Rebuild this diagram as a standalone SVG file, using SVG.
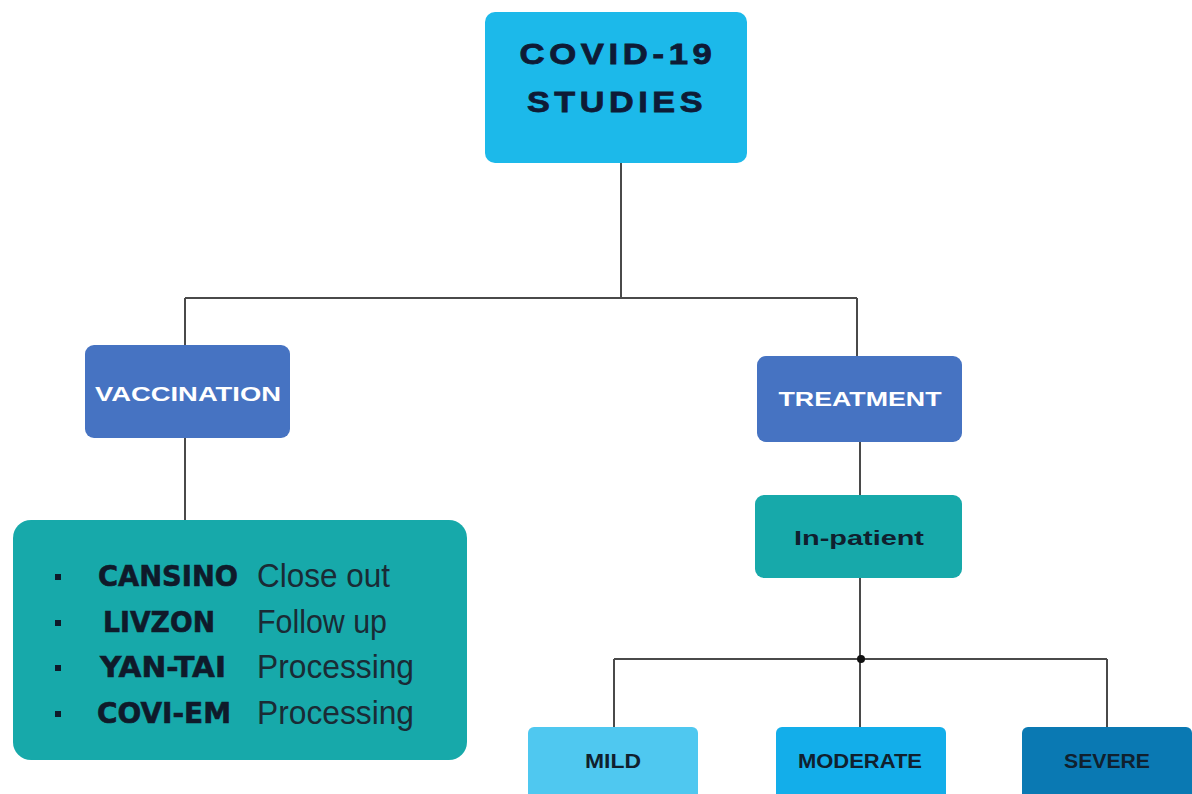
<svg xmlns="http://www.w3.org/2000/svg" width="1192" height="794" viewBox="0 0 1192 794">
<style>
.conn{fill:none;stroke:#4a4a4a;stroke-width:2}
.hdr{font-family:"Liberation Sans",Arial,sans-serif;font-weight:bold;fill:#0e1b36;text-anchor:middle;stroke:#0e1b36;stroke-width:0.8}
.blue{font-family:"Liberation Sans",Arial,sans-serif;font-weight:bold;fill:#ffffff;text-anchor:middle;font-size:20px}
.dark{font-family:"Liberation Sans",Arial,sans-serif;font-weight:bold;fill:#10202e;text-anchor:middle}
.name{font-family:"DejaVu Sans",sans-serif;font-weight:bold;fill:#0f1a2a;font-size:28px;text-anchor:middle;stroke:#0f1a2a;stroke-width:0.6}
.stat{font-family:"Liberation Sans",Arial,sans-serif;fill:#1a2b35;font-size:33px}
</style>
<rect width="1192" height="794" fill="#ffffff"/>
<g id="connectors">
<path class="conn" d="M621 163 V298 M185 298 H857 M185 298 V345 M857 298 V356"/>
<path class="conn" d="M185 438 V520"/>
<path class="conn" d="M860 442 V495"/>
<path class="conn" d="M860 578 V727 M614 659 H1107 M614 659 V727 M1107 659 V727" stroke="#333"/>
<circle cx="861" cy="659" r="4" fill="#111"/>
</g>
<g id="covid">
<rect x="485" y="12" width="262" height="151" rx="10" fill="#1cb9ea"/>
<text class="hdr" x="618" y="64" font-size="30" letter-spacing="4" textLength="197" lengthAdjust="spacingAndGlyphs">COVID-19</text>
<text class="hdr" x="617" y="112" font-size="30" letter-spacing="4" textLength="180" lengthAdjust="spacingAndGlyphs">STUDIES</text>
</g>
<g id="vaccination">
<rect x="85" y="345" width="205" height="93" rx="9" fill="#4673c2"/>
<text class="blue" x="188" y="401" textLength="186" lengthAdjust="spacingAndGlyphs">VACCINATION</text>
</g>
<g id="treatment">
<rect x="757" y="356" width="205" height="86" rx="9" fill="#4673c2"/>
<text class="blue" x="860" y="406" textLength="163" lengthAdjust="spacingAndGlyphs">TREATMENT</text>
</g>
<g id="vaccine-list">
<rect x="13" y="520" width="454" height="240" rx="18" fill="#17a9aa"/>
<g fill="#0f1a2a">
<rect x="55" y="574" width="6" height="6"/>
<rect x="55" y="620" width="6" height="6"/>
<rect x="55" y="665" width="6" height="6"/>
<rect x="55" y="711" width="6" height="6"/>
</g>
<text class="name" x="168" y="586" textLength="140" lengthAdjust="spacingAndGlyphs">CANSINO</text>
<text class="name" x="159" y="632" textLength="112" lengthAdjust="spacingAndGlyphs">LIVZON</text>
<text class="name" x="163" y="677" textLength="126" lengthAdjust="spacingAndGlyphs">YAN-TAI</text>
<text class="name" x="164" y="723" textLength="134" lengthAdjust="spacingAndGlyphs">COVI-EM</text>
<text class="stat" x="257" y="587" textLength="133" lengthAdjust="spacingAndGlyphs">Close out</text>
<text class="stat" x="257" y="633" textLength="130" lengthAdjust="spacingAndGlyphs">Follow up</text>
<text class="stat" x="257" y="678" textLength="157" lengthAdjust="spacingAndGlyphs">Processing</text>
<text class="stat" x="257" y="724" textLength="157" lengthAdjust="spacingAndGlyphs">Processing</text>
</g>
<g id="inpatient">
<rect x="755" y="495" width="207" height="83" rx="9" fill="#17a9aa"/>
<text class="dark" x="859" y="545" font-size="21" textLength="130" lengthAdjust="spacingAndGlyphs">In-patient</text>
</g>
<g id="mild">
<rect x="528" y="727" width="170" height="80" rx="6" fill="#4fc8f0"/>
<text class="dark" x="613" y="768" font-size="20" textLength="56" lengthAdjust="spacingAndGlyphs">MILD</text>
</g>
<g id="moderate">
<rect x="776" y="727" width="170" height="80" rx="6" fill="#13aeea"/>
<text class="dark" x="860" y="768" font-size="20" textLength="124" lengthAdjust="spacingAndGlyphs">MODERATE</text>
</g>
<g id="severe">
<rect x="1022" y="727" width="170" height="80" rx="6" fill="#0a79b3"/>
<text class="dark" x="1107" y="768" font-size="20" textLength="86" lengthAdjust="spacingAndGlyphs">SEVERE</text>
</g>
</svg>
